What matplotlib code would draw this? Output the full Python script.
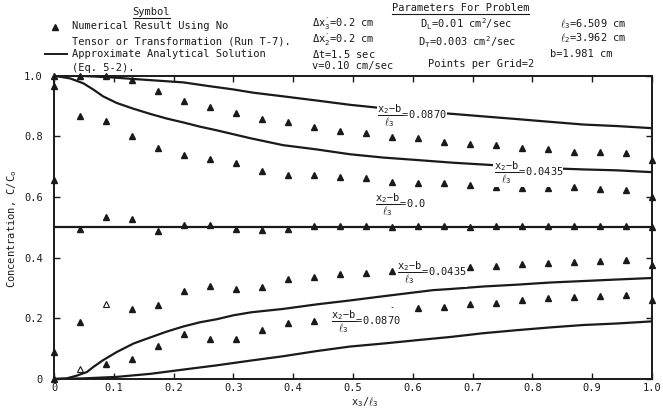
import numpy as np
import matplotlib
matplotlib.use("Agg")
import matplotlib.pyplot as plt
from matplotlib.lines import Line2D

plt.rcParams['font.family'] = ['DejaVu Sans Mono', 'DejaVu Sans']
plt.rcParams['mathtext.fontset'] = 'custom'
plt.rcParams['mathtext.rm'] = 'DejaVu Sans Mono'
plt.rcParams['mathtext.it'] = 'DejaVu Sans Mono'
plt.rcParams['mathtext.bf'] = 'DejaVu Sans Mono:bold'

INK = '#1a1a1a'
FS = 7.5

# numerical result, x3/l3 = k * 0.0435
x_pts = np.arange(24) * 0.0435
up_087 = [1.0, 1.0, 1.0, 0.985, 0.948, 0.915, 0.897, 0.878, 0.857, 0.847, 0.83, 0.818,
          0.81, 0.798, 0.795, 0.783, 0.775, 0.77, 0.76, 0.758, 0.748, 0.748, 0.745, 0.721]
up_0435 = [0.965, 0.867, 0.851, 0.801, 0.762, 0.739, 0.727, 0.712, 0.685, 0.674, 0.671, 0.665,
           0.662, 0.65, 0.647, 0.646, 0.64, 0.632, 0.629, 0.629, 0.633, 0.628, 0.624, 0.6]
mid_00 = [0.656, 0.494, 0.534, 0.529, 0.489, 0.509, 0.508, 0.494, 0.49, 0.493, 0.506, 0.506,
          0.506, 0.502, 0.504, 0.503, 0.501, 0.504, 0.505, 0.505, 0.505, 0.504, 0.503, 0.5]
lo_0435 = [0.09, 0.187, 0.246, 0.23, 0.245, 0.291, 0.305, 0.298, 0.304, 0.33, 0.336, 0.347,
           0.351, 0.357, np.nan, 0.366, 0.369, 0.372, 0.378, 0.384, 0.386, 0.389, 0.393, 0.375]
lo_087 = [0.0, 0.033, 0.048, 0.067, 0.108, 0.149, 0.133, 0.133, 0.16, 0.183, 0.19, np.nan,
          0.214, 0.229, 0.235, 0.239, 0.246, 0.252, 0.26, 0.268, 0.27, 0.274, 0.278, 0.261]
# a couple of points drawn open in the original
open_pts = [(2, 'lo_0435'), (1, 'lo_087')]

# approximate analytical solution (Eq. 5-2)
xa_up087 = [0, 0.05, 0.1, 0.127, 0.171, 0.216, 0.258, 0.299, 0.333, 0.383, 0.44, 0.495,
            0.584, 0.667, 0.717, 0.774, 0.829, 0.885, 0.941, 1.0]
ya_up087 = [1.0, 0.999, 0.994, 0.99, 0.984, 0.978, 0.966, 0.955, 0.944, 0.932, 0.918, 0.904,
            0.886, 0.874, 0.866, 0.857, 0.848, 0.839, 0.834, 0.827]
xa_up0435 = [0, 0.027, 0.049, 0.066, 0.082, 0.105, 0.133, 0.161, 0.188, 0.216, 0.244, 0.272,
             0.3, 0.328, 0.383, 0.439, 0.495, 0.551, 0.607, 0.668, 0.779, 0.829, 0.885, 0.941, 1.0]
ya_up0435 = [1.0, 0.991, 0.975, 0.954, 0.932, 0.91, 0.891, 0.874, 0.859, 0.846, 0.832, 0.82,
             0.807, 0.794, 0.771, 0.757, 0.741, 0.73, 0.722, 0.713, 0.7, 0.695, 0.691, 0.688, 0.682]
xa_mid = [0, 1.0]
ya_mid = [0.5, 0.5]
xa_lo0435 = [0, 0.021, 0.038, 0.055, 0.066, 0.082, 0.105, 0.133, 0.161, 0.188, 0.216, 0.244,
             0.272, 0.3, 0.33, 0.383, 0.439, 0.495, 0.551, 0.634, 0.665, 0.718, 0.774, 0.829,
             0.885, 0.941, 1.0]
ya_lo0435 = [0, 0.002, 0.011, 0.023, 0.04, 0.062, 0.089, 0.117, 0.137, 0.156, 0.173, 0.187,
             0.197, 0.21, 0.22, 0.231, 0.246, 0.259, 0.273, 0.293, 0.297, 0.305, 0.311, 0.318,
             0.323, 0.328, 0.333]
xa_lo087 = [0, 0.049, 0.105, 0.161, 0.216, 0.272, 0.33, 0.383, 0.439, 0.495, 0.551, 0.607,
            0.665, 0.718, 0.774, 0.829, 0.885, 0.941, 1.0]
ya_lo087 = [0, 0.002, 0.007, 0.017, 0.031, 0.045, 0.061, 0.075, 0.092, 0.107, 0.117, 0.128,
            0.139, 0.151, 0.161, 0.17, 0.178, 0.183, 0.19]

xticks = [0, 0.1, 0.2, 0.3, 0.4, 0.5, 0.6, 0.7, 0.8, 0.9, 1.0]
xticklabels = ['0', '0.1', '0.2', '0.3', '0.4', '0.5', '0.6', '0.7', '0.8', '0.9', '1.0']
yticks = [0, 0.2, 0.4, 0.6, 0.8, 1.0]
yticklabels = ['0', '0.2', '0.4', '0.6', '0.8', '1.0']

W, H = 663, 411
fig = plt.figure(figsize=(W / 100, H / 100), dpi=100)
ax = fig.add_axes([54 / W, 1 - 379 / H, 598 / W, 303.3 / H])

series = {'up_087': up_087, 'up_0435': up_0435, 'mid_00': mid_00,
          'lo_0435': lo_0435, 'lo_087': lo_087}
for name, ys in series.items():
    ys = np.array(ys, dtype=float)
    filled = np.ones(len(ys), bool)
    for k, nm in open_pts:
        if nm == name:
            filled[k] = False
    ax.plot(x_pts[filled], ys[filled], ls='none', marker='^', ms=3.8,
            color=INK, clip_on=False, zorder=3)
    ax.plot(x_pts[~filled], ys[~filled], ls='none', marker='^', ms=4,
            mfc='white', mec=INK, mew=0.8, clip_on=False, zorder=3)

for xa, ya in [(xa_up087, ya_up087), (xa_up0435, ya_up0435), (xa_mid, ya_mid),
               (xa_lo0435, ya_lo0435), (xa_lo087, ya_lo087)]:
    ax.plot(xa, ya, color=INK, lw=1.6, solid_capstyle='butt', zorder=2)

ax.set_xlim(0, 1.0)
ax.set_ylim(0, 1.0)
ax.set_xticks(xticks)
ax.set_xticklabels(xticklabels)
ax.set_yticks(yticks)
ax.set_yticklabels(yticklabels)
ax.tick_params(direction='in', length=4, width=1.0, colors=INK, labelsize=FS,
               top=True, right=True)
ax.tick_params(axis='x', pad=3)
ax.tick_params(axis='y', pad=8)
for sp in ax.spines.values():
    sp.set_linewidth(1.4)
    sp.set_color(INK)

# curve labels (x2-b)/l3 = value
frac = r'$\dfrac{\mathrm{x}_2\mathrm{-b}}{\ell_3}$'
curve_labels = [(0.540, 0.867, '=0.0870'), (0.735, 0.679, '=0.0435'),
                (0.536, 0.574, '=0.0'), (0.573, 0.350, '=0.0435'),
                (0.463, 0.188, '=0.0870')]
for lx, ly, txt in curve_labels:
    ax.text(lx, ly, frac + txt, fontsize=FS, color=INK, ha='left', va='center',
            zorder=4, bbox=dict(fc='white', ec='none', pad=0.2))

ax.set_xlabel(r'x$_3$/$\ell_3$', fontsize=FS, color=INK)
ax.xaxis.set_label_coords(0.52, -0.052)
fig.text(12 / W, 1 - 229 / H, r'Concentration, C/C$_o$', rotation=90,
         fontsize=FS, color=INK, ha='center', va='center')


def ftext(px, py, s, ha='left', **kw):
    return fig.text(px / W, 1 - py / H, s, fontsize=FS, color=INK, ha=ha,
                    va='center', **kw)


# symbol key
ftext(151, 12, 'Symbol', ha='center')
fig.add_artist(Line2D([133 / W, 170 / W], [1 - 18 / H, 1 - 18 / H], color=INK, lw=0.8))
fig.add_artist(Line2D([55 / W], [1 - 27 / H], ls='none', marker='^', ms=3.8, color=INK))
ftext(72, 26, 'Numerical Result Using No')
ftext(72, 41, 'Tensor or Transformation (Run T-7).')
fig.add_artist(Line2D([45 / W, 67 / W], [1 - 54 / H, 1 - 54 / H], color=INK, lw=1.4))
ftext(72, 54, 'Approximate Analytical Solution')
ftext(72, 68, '(Eq. 5-2).')

# run parameters
ftext(312, 24, r'$\Delta$x$_3^{\prime}$=0.2 cm')
ftext(312, 40, r'$\Delta$x$_2^{\prime}$=0.2 cm')
ftext(312, 54, r'$\Delta$t=1.5 sec')
ftext(312, 66, 'v=0.10 cm/sec')

ftext(392, 8, 'Parameters For Problem')
fig.add_artist(Line2D([392 / W, 529 / W], [1 - 14 / H, 1 - 14 / H], color=INK, lw=0.8))
ftext(420, 24, r'D$_L$=0.01 cm$^2$/sec')
ftext(418, 42, r'D$_T$=0.003 cm$^2$/sec')
ftext(428, 64, 'Points per Grid=2')

ftext(560, 24, r'$\ell_3$=6.509 cm')
ftext(560, 38, r'$\ell_2$=3.962 cm')
ftext(613, 54, 'b=1.981 cm', ha='right')

fig.savefig('out.png', dpi=100)
